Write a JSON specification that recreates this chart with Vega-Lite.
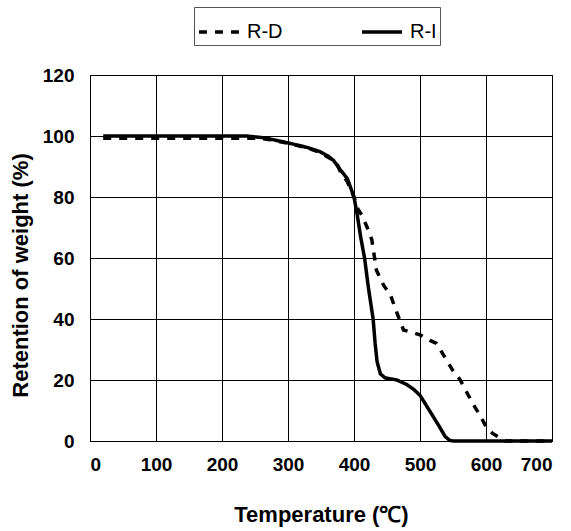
{
  "$schema": "https://vega.github.io/schema/vega-lite/v6.json",
  "autosize": "none",
  "width": 462,
  "height": 366,
  "padding": {"left": 90, "top": 75, "right": 19, "bottom": 90},
  "background": "white",
  "config": {
    "font": "Liberation Sans",
    "view": {"stroke": "black", "strokeWidth": 1},
    "axis": {
      "grid": true,
      "gridColor": "black",
      "gridOpacity": 1,
      "gridWidth": 1,
      "domainColor": "black",
      "ticks": false,
      "labelFont": "Liberation Sans",
      "labelFontWeight": "bold",
      "labelFontSize": 19,
      "labelColor": "black",
      "titleFont": "Liberation Sans",
      "titleFontWeight": "bold",
      "titleFontSize": 22,
      "titleColor": "black"
    }
  },
  "data": {
    "values": [
      {"series": "R-D", "T": 20, "W": 99.3},
      {"series": "R-D", "T": 100, "W": 99.3},
      {"series": "R-D", "T": 200, "W": 99.3},
      {"series": "R-D", "T": 240, "W": 99.3},
      {"series": "R-D", "T": 260, "W": 99.2},
      {"series": "R-D", "T": 273, "W": 98.8},
      {"series": "R-D", "T": 303, "W": 97.5},
      {"series": "R-D", "T": 330, "W": 96.0},
      {"series": "R-D", "T": 348, "W": 94.7},
      {"series": "R-D", "T": 369, "W": 92},
      {"series": "R-D", "T": 375, "W": 90.5},
      {"series": "R-D", "T": 380, "W": 88},
      {"series": "R-D", "T": 390, "W": 85},
      {"series": "R-D", "T": 400, "W": 80},
      {"series": "R-D", "T": 406, "W": 76},
      {"series": "R-D", "T": 412, "W": 74},
      {"series": "R-D", "T": 420, "W": 70},
      {"series": "R-D", "T": 427, "W": 66},
      {"series": "R-D", "T": 434, "W": 56},
      {"series": "R-D", "T": 445, "W": 51},
      {"series": "R-D", "T": 455, "W": 48},
      {"series": "R-D", "T": 465, "W": 42},
      {"series": "R-D", "T": 475, "W": 36.4},
      {"series": "R-D", "T": 490, "W": 35.5},
      {"series": "R-D", "T": 500, "W": 34.8},
      {"series": "R-D", "T": 515, "W": 33},
      {"series": "R-D", "T": 525, "W": 32},
      {"series": "R-D", "T": 540, "W": 26.6},
      {"series": "R-D", "T": 550, "W": 23},
      {"series": "R-D", "T": 561, "W": 20},
      {"series": "R-D", "T": 572, "W": 15.5},
      {"series": "R-D", "T": 583, "W": 11.2},
      {"series": "R-D", "T": 592, "W": 8},
      {"series": "R-D", "T": 600, "W": 4.7},
      {"series": "R-D", "T": 610, "W": 2.5},
      {"series": "R-D", "T": 621, "W": 1},
      {"series": "R-D", "T": 630, "W": 0},
      {"series": "R-D", "T": 700, "W": 0},
      {"series": "R-I", "T": 20, "W": 100},
      {"series": "R-I", "T": 100, "W": 100},
      {"series": "R-I", "T": 200, "W": 100},
      {"series": "R-I", "T": 237, "W": 100},
      {"series": "R-I", "T": 260, "W": 99.5},
      {"series": "R-I", "T": 273, "W": 99},
      {"series": "R-I", "T": 303, "W": 97.6},
      {"series": "R-I", "T": 330, "W": 96.2},
      {"series": "R-I", "T": 348, "W": 94.9},
      {"series": "R-I", "T": 360, "W": 93.5},
      {"series": "R-I", "T": 369, "W": 92},
      {"series": "R-I", "T": 379, "W": 89},
      {"series": "R-I", "T": 390, "W": 86},
      {"series": "R-I", "T": 400, "W": 80},
      {"series": "R-I", "T": 405, "W": 74},
      {"series": "R-I", "T": 410, "W": 67},
      {"series": "R-I", "T": 416, "W": 60},
      {"series": "R-I", "T": 422, "W": 50},
      {"series": "R-I", "T": 429, "W": 40},
      {"series": "R-I", "T": 432, "W": 32},
      {"series": "R-I", "T": 435, "W": 26},
      {"series": "R-I", "T": 440, "W": 22},
      {"series": "R-I", "T": 447, "W": 20.7},
      {"series": "R-I", "T": 465, "W": 20},
      {"series": "R-I", "T": 480, "W": 18.5},
      {"series": "R-I", "T": 490, "W": 17},
      {"series": "R-I", "T": 500, "W": 15},
      {"series": "R-I", "T": 510, "W": 11.5},
      {"series": "R-I", "T": 520, "W": 8},
      {"series": "R-I", "T": 530, "W": 4.5},
      {"series": "R-I", "T": 538, "W": 1.5},
      {"series": "R-I", "T": 545, "W": 0.2},
      {"series": "R-I", "T": 550, "W": 0},
      {"series": "R-I", "T": 600, "W": 0},
      {"series": "R-I", "T": 700, "W": 0}
    ]
  },
  "mark": {"type": "line", "strokeWidth": 3.5, "color": "black", "strokeCap": "butt"},
  "encoding": {
    "x": {
      "field": "T", "type": "quantitative",
      "scale": {"domain": [0, 700], "nice": false},
      "axis": {"values": [0, 100, 200, 300, 400, 500, 600, 700], "title": "Temperature (℃)", "labelPadding": 14, "titlePadding": 30}
    },
    "y": {
      "field": "W", "type": "quantitative",
      "scale": {"domain": [0, 120], "nice": false},
      "axis": {"values": [0, 20, 40, 60, 80, 100, 120], "title": "Retention of weight (%)", "labelPadding": 16, "titlePadding": 10, "titleY": 200}
    },
    "strokeDash": {
      "field": "series", "type": "nominal",
      "scale": {"domain": ["R-D", "R-I"], "range": [[8, 8], [1, 0]]},
      "legend": {
        "title": null,
        "orient": "none",
        "direction": "horizontal",
        "legendX": 104,
        "legendY": -68,
        "strokeColor": "#555",
        "fillColor": "white",
        "padding": 3,
        "symbolType": "stroke",
        "symbolSize": 1600,
        "symbolStrokeWidth": 3.5,
        "symbolStrokeColor": "black",
        "labelFont": "Liberation Sans",
        "labelFontSize": 20,
        "labelColor": "black",
        "labelOffset": 6,
        "columnPadding": 72
      }
    }
  }
}
